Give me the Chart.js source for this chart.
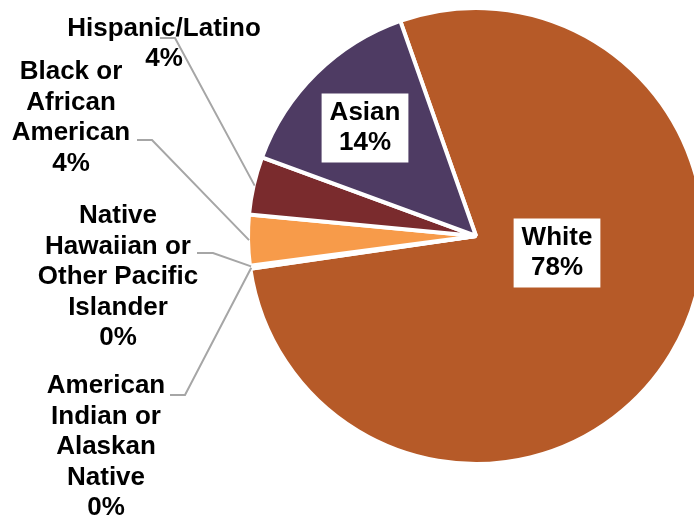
<!DOCTYPE html>
<html>
<head>
<meta charset="utf-8">
<script src="https://cdn.jsdelivr.net/npm/chart.js@4/dist/chart.umd.min.js"></script>
<style>
  html, body { margin: 0; padding: 0; background: #ffffff; }
  #wrap { width: 694px; height: 523px; }
</style>
</head>
<body>
<div id="wrap"><canvas id="pieChart" width="694" height="523"></canvas></div>
<script>
// Chart data (clockwise from the top-left edge of the White slice)
const categories = [
    'White',
    'American Indian or Alaskan Native',
    'Native Hawaiian or Other Pacific Islander',
    'Black or African American',
    'Hispanic/Latino',
    'Asian'
];
const shares = [78.1, 0.1, 0.1, 3.6, 4.1, 14.0];
const sliceColors = ['#B65A28', '#B65A28', '#B65A28', '#F79B4A', '#7A2B2D', '#4E3B63'];

// Label placement (layout only): inside labels sit in a white box offset from the pie centre,
// outside labels are text blocks with an elbow leader line to the middle of the slice edge
const labelLayout = [
    { inside: true, dx: 81, dy: 17 },
    { x: 106, y: 447, wrap: 135, lead: [[170, 395], [185, 395]] },
    { x: 118, y: 277, wrap: 175, lead: [[197, 253], [213, 253]] },
    { x: 71, y: 118, wrap: 135, lead: [[137, 140], [152, 140]] },
    { x: 164, y: 44, wrap: 260, lead: [[160, 38], [175, 38]] },
    { inside: true, dx: -111, dy: -108 }
];

const FONT = 'bold 26px "Liberation Sans", Arial, sans-serif';
const LINE_H = 30.5;

// Break a category name into lines that fit the given width
function wrapText(ctx, text, maxWidth) {
    const words = text.split(' ');
    const lines = [];
    let line = '';
    words.forEach((w) => {
        const test = line ? line + ' ' + w : w;
        if (line && ctx.measureText(test).width > maxWidth) {
            lines.push(line);
            line = w;
        } else {
            line = test;
        }
    });
    if (line) lines.push(line);
    return lines;
}

// Plugin drawing data labels and leader lines like the original chart
const pieLabels = {
    id: 'pieLabels',
    afterDatasetsDraw(chart) {
        const ctx = chart.ctx;
        const meta = chart.getDatasetMeta(0);
        const total = shares.reduce((a, b) => a + b, 0);
        ctx.save();
        ctx.font = FONT;
        ctx.textAlign = 'center';
        ctx.textBaseline = 'middle';

        meta.data.forEach((arc, i) => {
            const p = arc.getProps(['x', 'y', 'startAngle', 'endAngle', 'outerRadius'], true);
            const layout = labelLayout[i];
            const pct = Math.round(shares[i] / total * 100) + '%';

            if (layout.inside) {
                const lines = [categories[i], pct];
                const cx = p.x + layout.dx;
                const cy = p.y + layout.dy;
                const w = Math.max(...lines.map((l) => ctx.measureText(l).width)) + 16;
                const h = lines.length * LINE_H + 8;
                ctx.fillStyle = '#ffffff';
                ctx.fillRect(cx - w / 2, cy - h / 2, w, h);
                ctx.fillStyle = '#000000';
                lines.forEach((l, k) => {
                    ctx.fillText(l, cx, cy + (k - (lines.length - 1) / 2) * LINE_H);
                });
                return;
            }

            // leader line: horizontal stub, then to the middle of the slice edge
            const mid = (p.startAngle + p.endAngle) / 2;
            const ex = p.x + Math.cos(mid) * (p.outerRadius - 1);
            const ey = p.y + Math.sin(mid) * (p.outerRadius - 1);
            ctx.strokeStyle = '#A6A6A6';
            ctx.lineWidth = 2;
            ctx.beginPath();
            ctx.moveTo(layout.lead[0][0], layout.lead[0][1]);
            ctx.lineTo(layout.lead[1][0], layout.lead[1][1]);
            ctx.lineTo(ex, ey);
            ctx.stroke();

            const lines = wrapText(ctx, categories[i], layout.wrap).concat([pct]);
            ctx.fillStyle = '#000000';
            lines.forEach((l, k) => {
                ctx.fillText(l, layout.x, layout.y + (k - (lines.length - 1) / 2) * LINE_H);
            });
        });
        ctx.restore();
    }
};

new Chart(document.getElementById('pieChart'), {
    type: 'pie',
    data: {
        labels: categories,
        datasets: [{
            data: shares,
            backgroundColor: sliceColors,
            borderColor: '#ffffff',
            borderWidth: 4,
            radius: 228,
            clip: false
        }]
    },
    options: {
        responsive: false,
        animation: false,
        events: [],
        rotation: -19.4,
        layout: { padding: { left: 258, right: 0, top: 0, bottom: 51 } },
        plugins: {
            legend: { display: false },
            tooltip: { enabled: false }
        }
    },
    plugins: [pieLabels]
});
</script>
</body>
</html>
